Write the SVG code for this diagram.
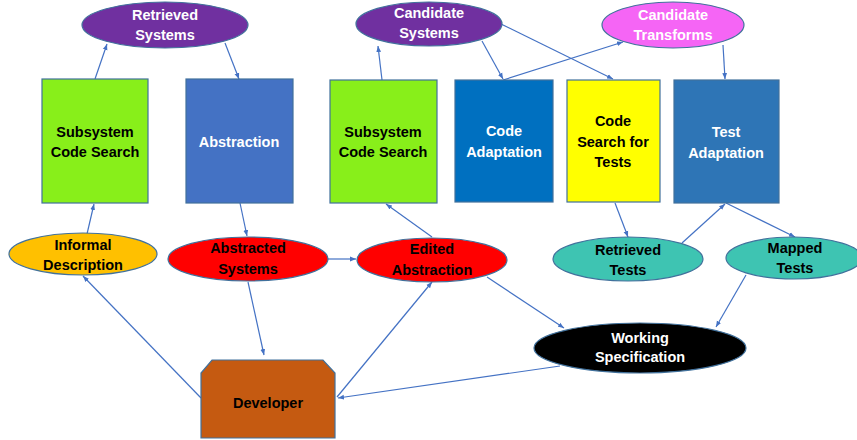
<svg xmlns="http://www.w3.org/2000/svg" width="857" height="440" viewBox="0 0 857 440">
<defs>
<marker id="ah" viewBox="0 0 10 10" refX="10" refY="5" markerWidth="6" markerHeight="6" orient="auto" markerUnits="userSpaceOnUse">
<path d="M0,1 L10,5 L0,9 z" fill="#4472C4"/>
</marker>
<style>
.n{stroke:#41719C;stroke-width:1.2}
.t{font-family:"Liberation Sans",Arial,sans-serif;font-weight:bold;font-size:14.5px;text-anchor:middle}
.w{fill:#FFFFFF}
.k{fill:#000000}
.c line{stroke:#4472C4;stroke-width:1.2;marker-end:url(#ah)}
</style>
</defs>
<rect width="857" height="440" fill="#FFFFFF"/>
<g class="c" id="connectors">
<line x1="95" y1="79" x2="107" y2="44"/>
<line x1="225" y1="43" x2="239" y2="79"/>
<line x1="382" y1="80" x2="378" y2="46"/>
<line x1="482" y1="41" x2="503" y2="79"/>
<line x1="503" y1="80" x2="623" y2="42"/>
<line x1="501" y1="24" x2="613" y2="79"/>
<line x1="723" y1="45" x2="725" y2="79"/>
<line x1="87" y1="234" x2="94" y2="204"/>
<line x1="240" y1="203" x2="247" y2="236"/>
<line x1="328" y1="259" x2="356" y2="259"/>
<line x1="432" y1="237" x2="386" y2="204"/>
<line x1="248" y1="282" x2="264" y2="355"/>
<line x1="201" y1="398" x2="83" y2="276"/>
<line x1="337" y1="397" x2="432" y2="282"/>
<line x1="560" y1="366" x2="338" y2="398"/>
<line x1="487" y1="277" x2="564" y2="328"/>
<line x1="746" y1="275" x2="716" y2="327"/>
<line x1="615" y1="203" x2="628" y2="237"/>
<line x1="682" y1="243" x2="725" y2="204"/>
<line x1="726" y1="203" x2="795" y2="237"/>
</g>
<g id="retrieved-systems">
<ellipse class="n" cx="165" cy="25" rx="83" ry="23" fill="#7030A0"/>
<text class="t w" x="165" y="20">Retrieved</text>
<text class="t w" x="165" y="40">Systems</text>
</g>
<g id="candidate-systems">
<ellipse class="n" cx="429" cy="24" rx="73" ry="22" fill="#7030A0"/>
<text class="t w" x="429" y="18">Candidate</text>
<text class="t w" x="429" y="38">Systems</text>
</g>
<g id="candidate-transforms">
<ellipse class="n" cx="673" cy="25" rx="71" ry="23" fill="#F565F5"/>
<text class="t w" x="673" y="20">Candidate</text>
<text class="t w" x="673" y="40">Transforms</text>
</g>
<g id="subsystem-code-search-1">
<rect class="n" x="42" y="79" width="106" height="124" fill="#88EF1A"/>
<text class="t k" x="95" y="137">Subsystem</text>
<text class="t k" x="95" y="157">Code Search</text>
</g>
<g id="abstraction">
<rect class="n" x="186" y="79" width="107" height="124" fill="#4472C4"/>
<text class="t w" x="239" y="147">Abstraction</text>
</g>
<g id="subsystem-code-search-2">
<rect class="n" x="330" y="80" width="107" height="123" fill="#88EF1A"/>
<text class="t k" x="383" y="137">Subsystem</text>
<text class="t k" x="383" y="157">Code Search</text>
</g>
<g id="code-adaptation">
<rect class="n" x="455" y="80" width="98" height="122" fill="#0070C0"/>
<text class="t w" x="504" y="136">Code</text>
<text class="t w" x="504" y="157">Adaptation</text>
</g>
<g id="code-search-for-tests">
<rect class="n" x="567" y="80" width="93" height="122" fill="#FFFF00"/>
<text class="t k" x="613" y="126">Code</text>
<text class="t k" x="613" y="147">Search for</text>
<text class="t k" x="613" y="167">Tests</text>
</g>
<g id="test-adaptation">
<rect class="n" x="674" y="80" width="105" height="123" fill="#2E75B6"/>
<text class="t w" x="726" y="137">Test</text>
<text class="t w" x="726" y="158">Adaptation</text>
</g>
<g id="informal-description">
<ellipse class="n" cx="83" cy="254" rx="74" ry="21" fill="#FFC000"/>
<text class="t k" x="83" y="250">Informal</text>
<text class="t k" x="83" y="270">Description</text>
</g>
<g id="abstracted-systems">
<ellipse class="n" cx="248" cy="259" rx="80" ry="22" fill="#FF0000"/>
<text class="t k" x="248" y="253">Abstracted</text>
<text class="t k" x="248" y="274">Systems</text>
</g>
<g id="edited-abstraction">
<ellipse class="n" cx="432" cy="260" rx="75" ry="22" fill="#FF0000"/>
<text class="t k" x="432" y="254">Edited</text>
<text class="t k" x="432" y="275">Abstraction</text>
</g>
<g id="retrieved-tests">
<ellipse class="n" cx="628" cy="259" rx="75" ry="22" fill="#3EC4B2"/>
<text class="t k" x="628" y="255">Retrieved</text>
<text class="t k" x="628" y="275">Tests</text>
</g>
<g id="mapped-tests">
<ellipse class="n" cx="794" cy="258" rx="68" ry="21" fill="#3EC4B2"/>
<text class="t k" x="795" y="253">Mapped</text>
<text class="t k" x="795" y="273">Tests</text>
</g>
<g id="working-specification">
<ellipse class="n" cx="640" cy="348" rx="106" ry="25" fill="#000000"/>
<text class="t w" x="640" y="343">Working</text>
<text class="t w" x="640" y="362">Specification</text>
</g>
<g id="developer">
<path class="n" d="M212,360 L323,360 L335,373 L335,438 L201,438 L201,373 Z" fill="#C55A11"/>
<text class="t k" x="268" y="408">Developer</text>
</g>
</svg>
